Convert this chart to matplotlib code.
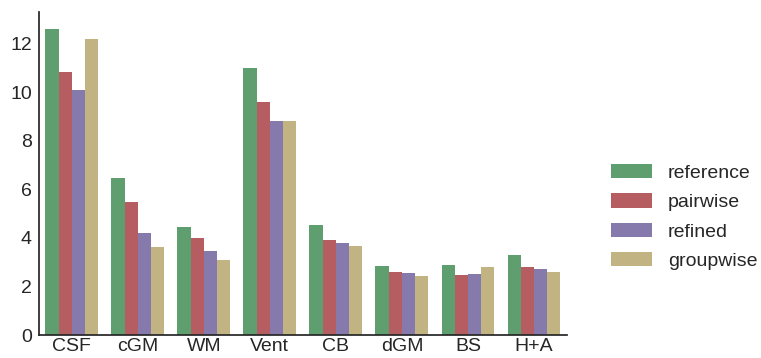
import numpy as np
import matplotlib
matplotlib.use("Agg")
import matplotlib.pyplot as plt

regions = ["CSF", "cGM", "WM", "Vent", "CB", "dGM", "BS", "H+A"]
methods = ["reference", "pairwise", "refined", "groupwise"]

reference = [12.6, 6.45, 4.44, 11.0, 4.53, 2.84, 2.88, 3.29]
pairwise = [10.85, 5.47, 3.99, 9.62, 3.91, 2.59, 2.47, 2.80]
refined = [10.1, 4.2, 3.46, 8.8, 3.79, 2.55, 2.51, 2.72]
groupwise = [12.2, 3.62, 3.09, 8.8, 3.66, 2.43, 2.80, 2.59]

colors = ["#5F9E6E", "#B55D60", "#857AAB", "#C1B482"]

plt.rcParams["font.family"] = ["Liberation Sans", "DejaVu Sans"]
plt.rcParams["text.color"] = "#262626"
plt.rcParams["xtick.color"] = "#262626"
plt.rcParams["ytick.color"] = "#262626"

fig = plt.figure(figsize=(7.61, 3.58), dpi=100)
ax = fig.add_axes([0.051, 0.064, 0.694, 0.902])

x = np.arange(len(regions))
width = 0.2
series = [reference, pairwise, refined, groupwise]
for i, (name, vals) in enumerate(zip(methods, series)):
    ax.bar(x - 0.3 + i * width, vals, width, color=colors[i], label=name,
           linewidth=0)

ax.set_xlim(-0.5, len(regions) - 0.5)
ax.set_ylim(0, 13.3)
ax.set_yticks([0, 2, 4, 6, 8, 10, 12])
ax.set_xticks(x)
ax.set_xticklabels(regions)
ax.tick_params(length=0, labelsize=14)
ax.tick_params(axis="x", pad=2)
ax.tick_params(axis="y", pad=5)

for side in ["top", "right"]:
    ax.spines[side].set_visible(False)
for side in ["left", "bottom"]:
    ax.spines[side].set_color("#262626")
    ax.spines[side].set_linewidth(1.25)

ax.legend(loc="center left", bbox_to_anchor=(1.05, 0.366), frameon=False,
          fontsize=14, handlelength=2.1, handleheight=0.77,
          labelspacing=0.58, handletextpad=0.82)

fig.savefig("out.png", dpi=100)
